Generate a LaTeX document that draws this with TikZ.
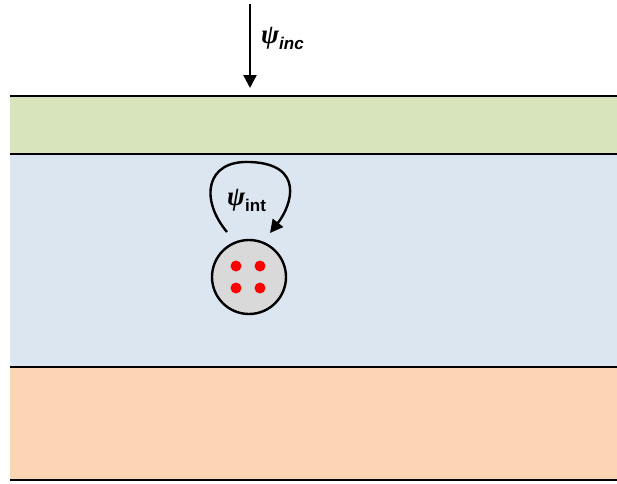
\documentclass[tikz,border=0pt]{standalone}
\usepackage{fontspec}
\newfontfamily\arialfont{Liberation Sans}
\newfontfamily\psifont{Liberation Serif}
\usetikzlibrary{arrows.meta}
\definecolor{bandgreen}{RGB}{216,228,188}
\definecolor{bandblue}{RGB}{220,230,241}
\definecolor{bandorange}{RGB}{252,213,180}
\definecolor{cellgray}{RGB}{217,217,217}
\definecolor{dotred}{RGB}{255,0,0}
\newcommand{\mypsi}{{\psifont\fontsize{27}{30}\selectfont\bfseries\itshape ψ}}
\newcommand{\mysub}{\arialfont\fontsize{17}{20}\selectfont\bfseries}
\tikzset{
  bandline/.style={line width=2.2pt,black},
  arr/.style={line width=2.4pt,-{Triangle[width=13pt,length=13pt]}},
  lbl/.style={inner sep=0pt,anchor=west},
  dot/.style={circle,fill=dotred,minimum size=11pt,inner sep=0pt}
}
\begin{document}
\begin{tikzpicture}[x=1pt,y=-1pt]
\useasboundingbox (0,0) rectangle (617,483);
\fill[white] (0,0) rectangle (617,483);
% bands
\fill[bandgreen] (10,96) rectangle (617,154);
\fill[bandblue] (10,154) rectangle (617,367);
\fill[bandorange] (10,367) rectangle (617,480);
\draw[bandline] (10,96) -- (617,96);
\draw[bandline] (10,154) -- (617,154);
\draw[bandline] (10,367) -- (617,367);
\draw[bandline] (10,480) -- (617,480);
% incident arrow
\coordinate (incs) at (250,4);
\coordinate (ince) at (250,88);
\draw[arr] (incs) -- (ince);
\node[lbl] (inc) at (261,38) {\mypsi\raisebox{-6pt}{\mysub\itshape inc}};
% particle
\node[circle,draw=black,line width=2.4pt,fill=cellgray,minimum size=74pt,inner sep=0pt] (cell) at (249,277) {};
\node[dot] (d1) at (236,266) {};
\node[dot] (d2) at (260,266) {};
\node[dot] (d3) at (236,288) {};
\node[dot] (d4) at (260,288) {};
% internal loop
\coordinate (ls) at (227,232);
\coordinate (le) at (270,233);
\draw[arr] (ls) .. controls (200,200) and (205,160) .. (250,162)
   .. controls (305,164) and (292,205) .. (le);
\node[lbl] (int) at (227,200) {\mypsi\raisebox{-6pt}{\mysub int}};
\end{tikzpicture}
\end{document}
